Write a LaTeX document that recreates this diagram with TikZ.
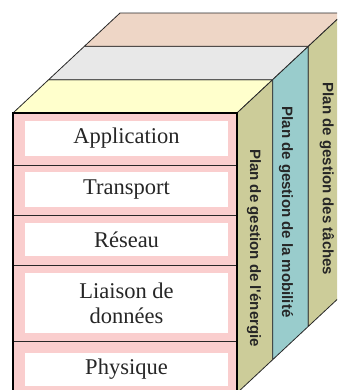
\documentclass[tikz,border=0pt]{standalone}
\usepackage{fontspec}
\setmainfont{Liberation Serif}
\setsansfont{Liberation Sans}
\definecolor{frontpink}{RGB}{250,206,206}
\definecolor{topyellow}{RGB}{255,255,204}
\definecolor{topgrey}{RGB}{232,232,232}
\definecolor{toppeach}{RGB}{238,214,198}
\definecolor{sidekhaki}{RGB}{204,204,153}
\definecolor{sideteal}{RGB}{153,204,204}
\definecolor{edge}{RGB}{40,40,40}
\tikzset{
  face/.style={draw=edge, line width=0.8pt, line join=round},
  layer/.style={fill=white, minimum width=203pt, inner sep=0pt, font=\fontsize{22.5}{25}\selectfont, text=black!85, align=center},
  plane/.style={rotate=-90, font=\sffamily\bfseries\fontsize{15}{18}\selectfont, text=black!85, inner sep=0pt},
  divider/.style={draw=edge, line width=0.8pt},
  frontborder/.style={draw=black, line width=2.5pt}
}
\begin{document}
\begin{tikzpicture}[x=1pt,y=-1pt]
\useasboundingbox (0,0) rectangle (337,390);
\clip (0,0) rectangle (337,390);
\def\dx{35.67}
\def\dy{33.33}
% top face strips
\foreach \k/\c in {0/topyellow,1/topgrey,2/toppeach} {
  \path[face, fill=\c] (13+\k*\dx,113-\k*\dy) -- (237+\k*\dx,113-\k*\dy)
     -- (237+\k*\dx+\dx,113-\k*\dy-\dy) -- (13+\k*\dx+\dx,113-\k*\dy-\dy) -- cycle;
}
% side face strips
\foreach \k/\c in {0/sidekhaki,1/sideteal,2/sidekhaki} {
  \path[face, fill=\c] (237+\k*\dx,113-\k*\dy) -- (237+\k*\dx+\dx,113-\k*\dy-\dy)
     -- (237+\k*\dx+\dx,393-\k*\dy-\dy) -- (237+\k*\dx,393-\k*\dy) -- cycle;
}
% front face
\fill[frontpink] (13,113) rectangle (237,395);
\node[layer, minimum height=35pt] (app) at (126.5,138.5) {Application};
\node[layer, minimum height=35pt] (tra) at (126.5,189.5) {Transport};
\node[layer, minimum height=33pt] (res) at (126.5,239.5) {Réseau};
\node[layer, minimum height=60pt] (lia) at (126.5,303) {Liaison de\\données};
\node[layer, minimum height=33pt] (phy) at (126.5,369) {Physique};
\draw[divider] (13,165) -- (237,165);
\draw[divider] (13,215) -- (237,215);
\draw[divider] (13,265) -- (237,265);
\draw[divider] (13,341) -- (237,341);
\draw[frontborder] (13,395) -- (13,113) -- (237,113) -- (237,395);
% side labels
\node[plane] (energy) at (254,248) {Plan de gestion de l\textquotesingle énergie};
\node[plane] (mobility) at (286,212) {Plan de gestion de la mobilité};
\node[plane] (tasks) at (327,179) {Plan de gestion des tâches};
\end{tikzpicture}
\end{document}
